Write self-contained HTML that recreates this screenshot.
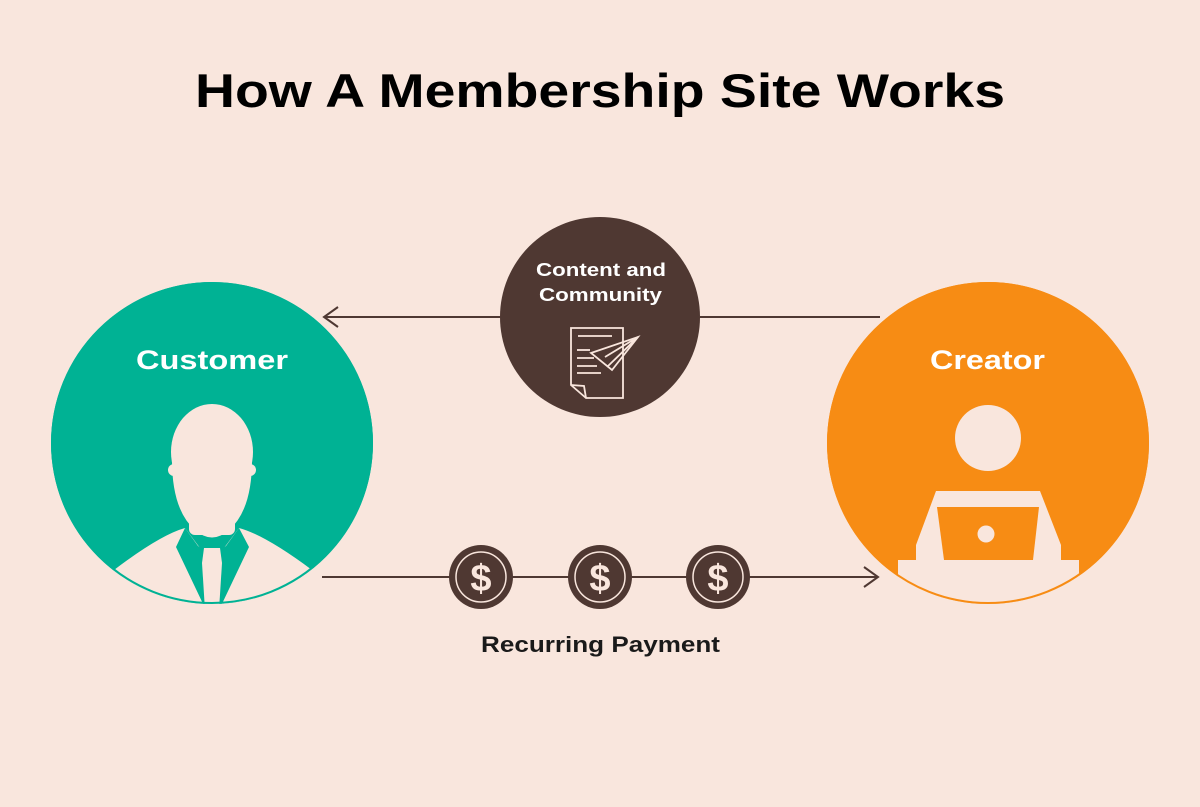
<!DOCTYPE html>
<html><head><style>
html,body{margin:0;padding:0;background:#f9e6dd;}
svg{display:block}
text{font-family:"Liberation Sans",sans-serif;}
</style></head><body>
<svg width="1200" height="807" viewBox="0 0 1200 807" xmlns="http://www.w3.org/2000/svg">
<rect width="1200" height="807" fill="#f9e6dd"/>
<text x="195" y="107" font-size="47" font-weight="bold" fill="#000" textLength="810" lengthAdjust="spacingAndGlyphs">How A Membership Site Works</text>

<defs>
<clipPath id="cc"><circle cx="212" cy="443" r="161"/></clipPath>
<clipPath id="oc"><circle cx="988" cy="443" r="161"/></clipPath>
</defs>

<g stroke="#4f3832" stroke-width="2" fill="none">
<line x1="324" y1="317" x2="500" y2="317"/>
<line x1="700" y1="317" x2="880" y2="317"/>
<polyline points="338,307 324,317 338,327"/>
<line x1="322" y1="577" x2="878" y2="577"/>
<polyline points="864,567 878,577 864,587"/>
</g>

<circle cx="212" cy="443" r="161" fill="#00b294"/>
<g clip-path="url(#cc)" fill="#f9e6dd">
<path d="M114,570 Q160,535 185,528 L200,548 Q212,557 224,548 L239,528 Q265,535 312,570 L320,620 L100,620 Z"/>
<ellipse cx="212" cy="452" rx="41" ry="48"/>
<path d="M172,460 Q172,510 195,530 Q212,545 229,530 Q252,510 252,460 Z"/>
<rect x="189" y="500" width="46" height="35" rx="6"/>
<circle cx="174" cy="470" r="6"/><circle cx="250" cy="470" r="6"/>
</g>
<g clip-path="url(#cc)" fill="#00b294">
<path d="M185,528 L176,547 L205,608 L220,608 L249,547 L239,528 L226,546 Q212,558 198,546 Z"/>
</g>
<g clip-path="url(#cc)" fill="#f9e6dd">
<path d="M204,548 L220,548 L222,563 L219,610 L205,610 L202,563 Z"/>
</g>
<circle cx="212" cy="443" r="160" fill="none" stroke="#00b294" stroke-width="2"/>
<text x="136" y="369" font-size="27" font-weight="bold" fill="#fff" textLength="152" lengthAdjust="spacingAndGlyphs">Customer</text>

<circle cx="988" cy="443" r="161" fill="#f78c14"/>
<g clip-path="url(#oc)" fill="#f9e6dd">
<circle cx="988" cy="438" r="33"/>
<path d="M936,491 L1040,491 L1061,545 L1061,560 L1079,560 L1079,620 L898,620 L898,560 L916,560 L916,545 Z"/>
</g>
<path d="M937,507 L1039,507 L1033,560 L944,560 Z" fill="#f78c14"/>
<circle cx="986" cy="534" r="8.5" fill="#f9e6dd"/>
<circle cx="988" cy="443" r="160" fill="none" stroke="#f78c14" stroke-width="2"/>
<text x="930" y="369" font-size="27" font-weight="bold" fill="#fff" textLength="115" lengthAdjust="spacingAndGlyphs">Creator</text>

<circle cx="600" cy="317" r="100" fill="#4f3832"/>
<text x="536" y="276" font-size="18" font-weight="bold" fill="#fff" textLength="130" lengthAdjust="spacingAndGlyphs">Content and</text>
<text x="539" y="301" font-size="18" font-weight="bold" fill="#fff" textLength="123" lengthAdjust="spacingAndGlyphs">Community</text>
<g stroke="#f9e6dd" stroke-width="1.8" fill="none">
<path d="M571,328 L623,328 L623,398 L586,398 L571,385 Z"/>
<path d="M571,385 L584,386 L586,398"/>
<line x1="578" y1="336" x2="612" y2="336"/>
<line x1="577" y1="350" x2="590" y2="350"/>
<line x1="577" y1="358" x2="594" y2="358"/>
<line x1="577" y1="366" x2="597" y2="366"/>
<line x1="577" y1="373" x2="601" y2="373"/>
<path d="M591,353 L638,337 L612,370 Z"/>
<path d="M605,357 L638,337 L607,367"/>
</g>

<g>
<circle cx="481" cy="577" r="32" fill="#4f3832"/>
<circle cx="481" cy="577" r="25" fill="none" stroke="#f9e6dd" stroke-width="1.5"/>
<text x="481" y="591" text-anchor="middle" font-size="38" font-weight="bold" fill="#f9e6dd">$</text>
<circle cx="600" cy="577" r="32" fill="#4f3832"/>
<circle cx="600" cy="577" r="25" fill="none" stroke="#f9e6dd" stroke-width="1.5"/>
<text x="600" y="591" text-anchor="middle" font-size="38" font-weight="bold" fill="#f9e6dd">$</text>
<circle cx="718" cy="577" r="32" fill="#4f3832"/>
<circle cx="718" cy="577" r="25" fill="none" stroke="#f9e6dd" stroke-width="1.5"/>
<text x="718" y="591" text-anchor="middle" font-size="38" font-weight="bold" fill="#f9e6dd">$</text>
</g>

<text x="481" y="652" font-size="22" fill="#1a1a1a" font-weight="bold" textLength="239" lengthAdjust="spacingAndGlyphs">Recurring Payment</text>
</svg>
</body></html>
